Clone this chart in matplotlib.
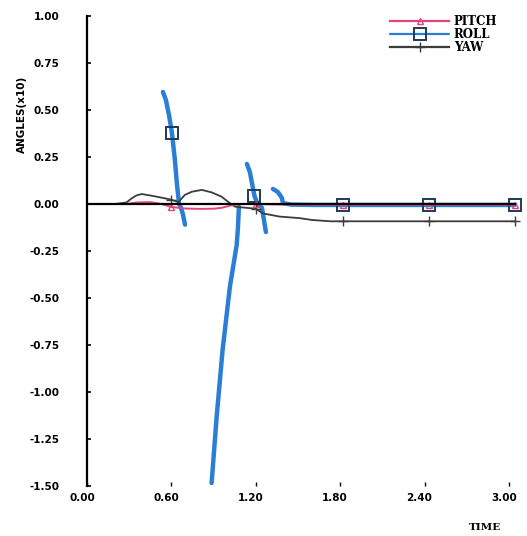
import numpy as np
import matplotlib
matplotlib.use("Agg")
import matplotlib.pyplot as plt
from matplotlib.transforms import ScaledTranslation

nan = np.nan

# Time samples and attitude angles (scaled x10)
pitch_t = [0.0, 0.28, 0.35, 0.45, 0.53, 0.60, 0.70, 0.80, 0.90, 0.96, 1.02, 1.10,
           1.20, 1.40, 1.82, 2.43, 3.04]
pitch_v = [0.0, 0.0, 0.008, 0.010, 0.0, -0.016, -0.024, -0.026, -0.025, -0.020,
           -0.008, 0.0, 0.0, -0.003, -0.004, -0.004, -0.004]

roll_t = [0.540, 0.561, 0.583, 0.604, 0.625, 0.640, 0.654, 0.668, 0.682, 0.697, nan,
          0.886, 0.922, 0.964, 1.016, 1.042, 1.064, 1.073, 1.080, nan,
          1.137, 1.158, 1.190, 1.215, 1.230, 1.244, 1.258, 1.272, nan,
          1.322, 1.357, 1.386, 1.393, 1.45, 1.60, 1.82, 2.10, 2.43, 2.70, 3.04]
roll_v = [0.596, 0.553, 0.473, 0.378, 0.234, 0.101, 0.005, -0.020, -0.055, -0.110, nan,
          -1.484, -1.131, -0.777, -0.440, -0.320, -0.220, -0.130, -0.016, nan,
          0.213, 0.170, 0.045, -0.005, -0.010, -0.020, -0.085, -0.149, nan,
          0.080, 0.064, 0.032, 0.005, -0.003, -0.005, -0.005, -0.005, -0.005, -0.005, -0.005]

yaw_t = [0.0, 0.20, 0.28, 0.318, 0.35, 0.388, 0.46, 0.555, 0.60, 0.65, 0.695, 0.744,
         0.816, 0.886, 0.957, 1.016, 1.052, 1.10, 1.20, 1.25, 1.37, 1.51, 1.60, 1.73,
         1.82, 2.10, 2.43, 2.70, 3.04]
yaw_v = [0.0, 0.0, 0.008, 0.030, 0.045, 0.053, 0.044, 0.030, 0.023, 0.010, 0.048, 0.065,
         0.075, 0.062, 0.039, 0.004, -0.014, -0.018, -0.025, -0.050, -0.067, -0.075,
         -0.085, -0.092, -0.092, -0.092, -0.092, -0.092, -0.092]

marker_times = [0.60, 1.20, 1.82, 2.43, 3.04]
x_ticks = [0.0, 0.6, 1.2, 1.8, 2.4, 3.0]
x_labels = ["0.00", "0.60", "1.20", "1.80", "2.40", "3.00"]
y_ticks = [1.0, 0.75, 0.5, 0.25, 0.0, -0.25, -0.5, -0.75, -1.0, -1.25, -1.5]
y_labels = ["1.00", "0.75", "0.50", "0.25", "0.00", "-0.25", "-0.50", "-0.75",
            "-1.00", "-1.25", "-1.50"]


def mark_idx(t):
    t = np.asarray(t, dtype=float)
    idx = []
    for m in marker_times:
        d = np.abs(np.nan_to_num(t, nan=1e9) - m)
        idx.append(int(np.argmin(d)))
    return idx


W, H = 527, 536
fig = plt.figure(figsize=(W / 100, H / 100), dpi=100)
ax = fig.add_axes([87 / W, 50 / H, (523 - 87) / W, 470 / H])
ax.set_xlim(0, 3.1)
ax.set_ylim(-1.5, 1.0)

c_pitch = "#e0457b"
c_roll = "#2a7fd4"
c_yaw = "#3c3c3c"

ax.plot(roll_t, roll_v, color=c_roll, lw=3.2, marker="s", ms=8,
        mfc="none", mec="#1d3a5e", mew=1.4, markevery=mark_idx(roll_t),
        label="ROLL", zorder=2, solid_capstyle="round")
ax.plot(yaw_t, yaw_v, color=c_yaw, lw=1.3, marker="+", ms=7, mew=1.0,
        markevery=mark_idx(yaw_t), label="YAW", zorder=2.5)
ax.plot(pitch_t, pitch_v, color=c_pitch, lw=1.4, marker="^", ms=4, mfc="none",
        mew=1.0, markevery=mark_idx(pitch_t), label="PITCH", zorder=2.6)

# reference line at zero over the sampled range
ax.axhline(0.0, xmin=0, xmax=3.04 / 3.1, color="black", lw=1.6, zorder=3)

for s in ["top", "right", "bottom"]:
    ax.spines[s].set_visible(False)
ax.spines["left"].set_linewidth(1.6)
ax.spines["left"].set_color("black")

tick_font = dict(family="DejaVu Sans", weight="bold", size=7.5)
ax.set_yticks(y_ticks)
ax.set_yticklabels(y_labels, **tick_font)
ax.set_xticks(x_ticks)
ax.set_xticklabels(x_labels, **tick_font)
ax.tick_params(axis="y", direction="in", length=3, width=1.2, pad=20)
ax.tick_params(axis="x", direction="in", length=3, width=1.0, pad=5)
shift = ScaledTranslation(-5 / 100, 0, fig.dpi_scale_trans)
for lbl in ax.get_xticklabels():
    lbl.set_transform(lbl.get_transform() + shift)

fig.text(22 / W, 1 - 114 / H, "ANGLES(x10)", rotation=90, ha="center", va="center",
         family="DejaVu Sans", weight="bold", size=7.5)
fig.text(485 / W, 1 - 527 / H, "TIME", ha="center", va="center",
         family="DejaVu Serif", weight="bold", size=7.5)

handles, labels = ax.get_legend_handles_labels()
order = [labels.index("PITCH"), labels.index("ROLL"), labels.index("YAW")]
leg = fig.legend([handles[i] for i in order], [labels[i] for i in order],
                 loc="upper left", bbox_to_anchor=(390 / W, 1 - 15 / H),
                 frameon=False, handlelength=5.0, handletextpad=0.4,
                 labelspacing=0.0, borderpad=0, borderaxespad=0,
                 prop=dict(family="DejaVu Serif", weight="bold", size=8.5))
for line in leg.get_lines():
    line.set_linewidth(1.6)

fig.savefig("out.png", dpi=100)
